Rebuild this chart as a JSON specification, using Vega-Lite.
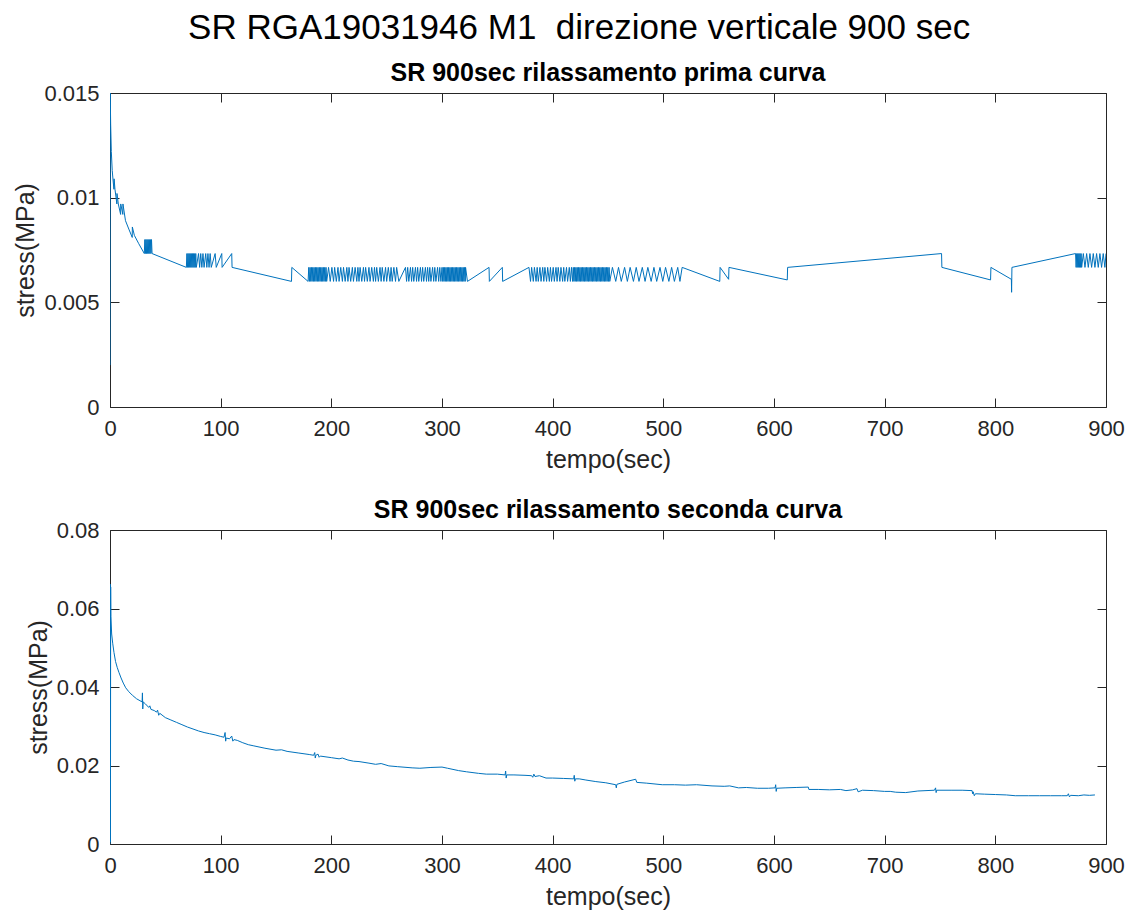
{
"$schema": "https://vega.github.io/schema/vega-lite/v6.json",
"background": "white",
"padding": {"left": 13, "top": 10, "right": 20, "bottom": 5},
"title": {"text": "SR RGA19031946 M1 \u00a0direzione verticale 900 sec", "fontSize": 35, "fontWeight": "normal", "font": "Liberation Sans", "color": "#000000", "anchor": "middle", "offset": 15, "dx": 10},
"datasets": {
"prima": [
{"t":0,"s":0.0020},{"t":0.2,"s":0.0150},{"t":0.6,"s":0.0135},{"t":1.2,"s":0.0122},{"t":2,"s":0.0113},{"t":3,"s":0.0107},{"t":3.6,"s":0.0104},{"t":3.7,"s":0.0109},{"t":4.5,"s":0.0104},{"t":6.2,"s":0.0097},{"t":6.3,"s":0.0102},{"t":7.5,"s":0.0097},{"t":9.6,"s":0.0092},{"t":9.7,"s":0.0097},{"t":11.6,"s":0.0092},{"t":11.7,"s":0.0097},{"t":14,"s":0.0089},{"t":17,"s":0.0085},{"t":20.1,"s":0.0081},{"t":20.2,"s":0.0086},{"t":22,"s":0.0082},{"t":26,"s":0.0078},{"t":31,"s":0.00733},
{"t":31.5,"s":0.008},{"t":32,"s":0.00733},{"t":32.5,"s":0.008},{"t":33,"s":0.00733},{"t":33.5,"s":0.008},{"t":34,"s":0.00733},{"t":34.5,"s":0.008},{"t":35,"s":0.00733},{"t":35.5,"s":0.008},{"t":36,"s":0.00733},{"t":36.5,"s":0.008},{"t":37,"s":0.00733},{"t":37.5,"s":0.008},{"t":38,"s":0.00733},
{"t":69,"s":0.00667},
{"t":69.5,"s":0.00733},{"t":70,"s":0.00667},{"t":70.5,"s":0.00733},{"t":71,"s":0.00667},{"t":71.5,"s":0.00733},{"t":72,"s":0.00667},{"t":72.5,"s":0.00733},{"t":73,"s":0.00667},{"t":73.5,"s":0.00733},{"t":74,"s":0.00667},{"t":74.5,"s":0.00733},{"t":75,"s":0.00667},{"t":75.5,"s":0.00733},{"t":76,"s":0.00667},{"t":76.5,"s":0.00733},{"t":77,"s":0.00667},{"t":77.5,"s":0.00733},{"t":78,"s":0.00667},
{"t":80,"s":0.00733},{"t":81,"s":0.00667},{"t":82,"s":0.00733},{"t":83,"s":0.00667},{"t":84,"s":0.00733},{"t":85,"s":0.00667},{"t":86.5,"s":0.00733},{"t":87.5,"s":0.00667},{"t":88.5,"s":0.00733},{"t":89.5,"s":0.00667},{"t":90.5,"s":0.00733},{"t":91.5,"s":0.00667},{"t":95,"s":0.00733},{"t":96,"s":0.00667},{"t":101,"s":0.00733},{"t":101.3,"s":0.00667},{"t":110,"s":0.00733},{"t":110.3,"s":0.00667},
{"t":164,"s":0.006},{"t":164.3,"s":0.00667},{"t":179,"s":0.006},
{"t":179.6,"s":0.00667},{"t":180.2,"s":0.006},{"t":180.8,"s":0.00667},{"t":181.4,"s":0.006},{"t":182,"s":0.00667},{"t":182.6,"s":0.006},{"t":183.2,"s":0.00667},{"t":183.8,"s":0.006},{"t":184.4,"s":0.00667},{"t":185,"s":0.006},{"t":185.6,"s":0.00667},{"t":186.2,"s":0.006},{"t":186.8,"s":0.00667},{"t":187.4,"s":0.006},{"t":188,"s":0.00667},{"t":188.6,"s":0.006},{"t":189.2,"s":0.00667},{"t":189.8,"s":0.006},{"t":190.4,"s":0.00667},{"t":191,"s":0.006},{"t":191.6,"s":0.00667},{"t":192.2,"s":0.006},{"t":192.8,"s":0.00667},{"t":193.4,"s":0.006},{"t":194,"s":0.00667},{"t":194.6,"s":0.006},{"t":195.2,"s":0.00667},{"t":195.8,"s":0.006},
{"t":197.5,"s":0.00667},{"t":199,"s":0.006},{"t":200.5,"s":0.00667},{"t":202,"s":0.006},{"t":203,"s":0.00667},{"t":204.5,"s":0.006},{"t":206,"s":0.00667},{"t":207,"s":0.006},{"t":208.5,"s":0.00667},{"t":210,"s":0.006},{"t":211,"s":0.00667},{"t":212.5,"s":0.006},{"t":214,"s":0.00667},{"t":215,"s":0.006},{"t":216,"s":0.00667},{"t":217.5,"s":0.006},{"t":219,"s":0.00667},{"t":220,"s":0.006},{"t":221.5,"s":0.00667},{"t":223,"s":0.006},{"t":224,"s":0.00667},{"t":225,"s":0.006},{"t":226,"s":0.00667},{"t":227.5,"s":0.006},{"t":229,"s":0.00667},{"t":230,"s":0.006},{"t":231,"s":0.00667},{"t":232.5,"s":0.006},{"t":234,"s":0.00667},{"t":235,"s":0.006},{"t":236.5,"s":0.00667},{"t":238,"s":0.006},{"t":239,"s":0.00667},{"t":240,"s":0.006},{"t":241,"s":0.00667},{"t":242.5,"s":0.006},{"t":244,"s":0.00667},{"t":245,"s":0.006},{"t":246,"s":0.00667},{"t":247.5,"s":0.006},{"t":249,"s":0.00667},{"t":250,"s":0.006},{"t":251.5,"s":0.00667},{"t":253,"s":0.006},{"t":254,"s":0.00667},{"t":255,"s":0.006},{"t":256.5,"s":0.00667},{"t":258,"s":0.006},{"t":259,"s":0.00667},{"t":261,"s":0.006},{"t":267,"s":0.00667},
{"t":268,"s":0.006},{"t":269,"s":0.00667},{"t":270,"s":0.006},{"t":271.5,"s":0.00667},{"t":272.5,"s":0.006},{"t":273.5,"s":0.00667},{"t":274.5,"s":0.006},{"t":276,"s":0.00667},{"t":277,"s":0.006},{"t":278,"s":0.00667},{"t":279,"s":0.006},{"t":280.5,"s":0.00667},{"t":281.5,"s":0.006},{"t":282.5,"s":0.00667},{"t":283.5,"s":0.006},{"t":285,"s":0.00667},{"t":286,"s":0.006},{"t":287,"s":0.00667},{"t":288,"s":0.006},{"t":289,"s":0.00667},{"t":290,"s":0.006},{"t":291.5,"s":0.00667},{"t":292.5,"s":0.006},{"t":293.5,"s":0.00667},{"t":294.5,"s":0.006},{"t":296,"s":0.00667},{"t":297,"s":0.006},{"t":298,"s":0.00667},{"t":299,"s":0.006},{"t":300,"s":0.00667},
{"t":300.6,"s":0.006},{"t":301.2,"s":0.00667},{"t":301.8,"s":0.006},{"t":302.4,"s":0.00667},{"t":303,"s":0.006},{"t":303.6,"s":0.00667},{"t":304.2,"s":0.006},{"t":304.8,"s":0.00667},{"t":305.4,"s":0.006},{"t":306,"s":0.00667},{"t":306.6,"s":0.006},{"t":307.2,"s":0.00667},{"t":307.8,"s":0.006},{"t":308.4,"s":0.00667},{"t":309,"s":0.006},{"t":309.6,"s":0.00667},{"t":310.2,"s":0.006},{"t":310.8,"s":0.00667},{"t":311.4,"s":0.006},{"t":312,"s":0.00667},{"t":312.6,"s":0.006},{"t":313.2,"s":0.00667},{"t":313.8,"s":0.006},{"t":314.4,"s":0.00667},{"t":315,"s":0.006},{"t":315.6,"s":0.00667},{"t":316.2,"s":0.006},{"t":316.8,"s":0.00667},{"t":317.4,"s":0.006},{"t":318,"s":0.00667},{"t":318.6,"s":0.006},{"t":319.2,"s":0.00667},{"t":319.8,"s":0.006},{"t":320.4,"s":0.00667},{"t":321,"s":0.006},{"t":321.3,"s":0.00667},{"t":323,"s":0.006},
{"t":342.5,"s":0.00667},{"t":342.8,"s":0.006},{"t":354.5,"s":0.00667},{"t":354.8,"s":0.006},{"t":378.6,"s":0.00667},
{"t":380,"s":0.006},{"t":381,"s":0.00667},{"t":382.5,"s":0.006},{"t":383.5,"s":0.00667},{"t":385,"s":0.006},{"t":386,"s":0.00667},{"t":387,"s":0.006},{"t":388.5,"s":0.00667},{"t":389.5,"s":0.006},{"t":391,"s":0.00667},{"t":392,"s":0.006},{"t":393,"s":0.00667},{"t":394.5,"s":0.006},{"t":395.5,"s":0.00667},{"t":397,"s":0.006},{"t":398,"s":0.00667},{"t":399,"s":0.006},{"t":400.5,"s":0.00667},{"t":401.5,"s":0.006},{"t":403,"s":0.00667},{"t":404,"s":0.006},{"t":405,"s":0.00667},{"t":406.5,"s":0.006},{"t":407.5,"s":0.00667},{"t":409,"s":0.006},{"t":410,"s":0.00667},{"t":411,"s":0.006},{"t":412.5,"s":0.00667},{"t":413.5,"s":0.006},{"t":415,"s":0.00667},{"t":416,"s":0.006},{"t":417,"s":0.00667},{"t":418,"s":0.006},
{"t":418.6,"s":0.00667},{"t":419.2,"s":0.006},{"t":419.8,"s":0.00667},{"t":420.4,"s":0.006},{"t":421,"s":0.00667},{"t":421.6,"s":0.006},{"t":422.2,"s":0.00667},{"t":422.8,"s":0.006},{"t":423.4,"s":0.00667},{"t":424,"s":0.006},{"t":424.6,"s":0.00667},{"t":425.2,"s":0.006},{"t":425.8,"s":0.00667},{"t":426.4,"s":0.006},{"t":427,"s":0.00667},{"t":427.6,"s":0.006},{"t":428.2,"s":0.00667},{"t":428.8,"s":0.006},{"t":429.4,"s":0.00667},{"t":430,"s":0.006},{"t":430.6,"s":0.00667},{"t":431.2,"s":0.006},{"t":431.8,"s":0.00667},{"t":432.4,"s":0.006},{"t":433,"s":0.00667},{"t":433.6,"s":0.006},{"t":434.2,"s":0.00667},{"t":434.8,"s":0.006},{"t":435.4,"s":0.00667},{"t":436,"s":0.006},{"t":436.6,"s":0.00667},{"t":437.2,"s":0.006},{"t":437.8,"s":0.00667},{"t":438.4,"s":0.006},{"t":439,"s":0.00667},{"t":439.6,"s":0.006},{"t":440.2,"s":0.00667},{"t":440.8,"s":0.006},{"t":441.4,"s":0.00667},{"t":442,"s":0.006},{"t":442.6,"s":0.00667},{"t":443.2,"s":0.006},{"t":443.8,"s":0.00667},{"t":444.4,"s":0.006},{"t":445,"s":0.00667},{"t":445.6,"s":0.006},{"t":446.2,"s":0.00667},{"t":446.8,"s":0.006},{"t":447.4,"s":0.00667},{"t":448,"s":0.006},{"t":448.6,"s":0.00667},{"t":449.2,"s":0.006},{"t":449.8,"s":0.00667},{"t":450.4,"s":0.006},{"t":451,"s":0.00667},{"t":451.6,"s":0.006},
{"t":454,"s":0.00667},{"t":457,"s":0.006},{"t":459.5,"s":0.00667},{"t":462,"s":0.006},{"t":465,"s":0.00667},{"t":467.5,"s":0.006},{"t":470,"s":0.00667},{"t":473,"s":0.006},{"t":475.5,"s":0.00667},{"t":478,"s":0.006},{"t":481,"s":0.00667},{"t":483.5,"s":0.006},{"t":486,"s":0.00667},{"t":489,"s":0.006},{"t":491.5,"s":0.00667},{"t":494,"s":0.006},{"t":497,"s":0.00667},{"t":499.5,"s":0.006},{"t":502,"s":0.00667},{"t":505,"s":0.006},{"t":507.5,"s":0.00667},{"t":510,"s":0.006},{"t":513,"s":0.00667},{"t":515,"s":0.006},{"t":517,"s":0.00667},
{"t":551,"s":0.006},{"t":551.3,"s":0.00667},{"t":559,"s":0.0061},{"t":559.3,"s":0.00667},{"t":612,"s":0.00607},{"t":612.3,"s":0.00667},{"t":751.4,"s":0.00733},{"t":751.7,"s":0.00667},{"t":795.7,"s":0.00607},{"t":796,"s":0.00667},{"t":814.5,"s":0.0061},{"t":814.7,"s":0.00548},{"t":815,"s":0.00667},{"t":872.5,"s":0.00733},
{"t":873,"s":0.00667},{"t":873.5,"s":0.00733},{"t":874,"s":0.00667},{"t":874.5,"s":0.00733},{"t":875,"s":0.00667},{"t":875.5,"s":0.00733},{"t":876,"s":0.00667},{"t":876.5,"s":0.00733},{"t":877,"s":0.00667},{"t":877.5,"s":0.00733},{"t":878,"s":0.00667},{"t":879.5,"s":0.00733},{"t":881,"s":0.00667},{"t":882.5,"s":0.00733},{"t":884,"s":0.00667},{"t":885.5,"s":0.00733},{"t":887,"s":0.00667},{"t":888.5,"s":0.00733},{"t":890,"s":0.00667},{"t":891.5,"s":0.00733},{"t":893,"s":0.00667},{"t":894.5,"s":0.00733},{"t":896,"s":0.00667},{"t":897.5,"s":0.00733},{"t":899,"s":0.00667},{"t":900,"s":0.00733}
],
"seconda": [
{"t":0,"s":0.0},{"t":0.2,"s":0.0662},{"t":0.4,"s":0.0005},{"t":0.6,"s":0.0655},{"t":0.8,"s":0.058},{"t":1.5,"s":0.0535},{"t":2.5,"s":0.051},{"t":3.6,"s":0.0488},{"t":5,"s":0.0465},{"t":6.5,"s":0.045},{"t":8.1,"s":0.0437},{"t":10,"s":0.0423},{"t":12,"s":0.041},{"t":14.2,"s":0.0398},{"t":17,"s":0.0388},{"t":20.2,"s":0.0379},{"t":24,"s":0.037},{"t":29,"s":0.0362},{"t":29.3,"s":0.0385},{"t":29.6,"s":0.0344},{"t":30,"s":0.0362},{"t":32,"s":0.0357},{"t":35,"s":0.0348},{"t":36,"s":0.0352},{"t":37,"s":0.0343},{"t":40,"s":0.034},{"t":42,"s":0.0336},{"t":43,"s":0.0341},{"t":44,"s":0.0328},{"t":45,"s":0.0333},{"t":50,"s":0.0322},{"t":55,"s":0.0316},{"t":60,"s":0.031},{"t":65,"s":0.0304},{"t":70,"s":0.0298},{"t":75,"s":0.0293},{"t":80,"s":0.0288},{"t":85,"s":0.0284},{"t":90,"s":0.0281},{"t":95,"s":0.0278},{"t":100,"s":0.0274},{"t":103,"s":0.0272},{"t":104,"s":0.0284},{"t":104.5,"s":0.0262},{"t":105,"s":0.027},{"t":108,"s":0.0268},{"t":110,"s":0.0275},{"t":111,"s":0.0262},{"t":112,"s":0.0266},{"t":115,"s":0.0264},{"t":120,"s":0.0258},{"t":125,"s":0.0253},{"t":130,"s":0.025},{"t":140,"s":0.0244},{"t":150,"s":0.0239},{"t":155,"s":0.024},{"t":160,"s":0.0236},{"t":170,"s":0.0232},{"t":180,"s":0.0228},{"t":184,"s":0.0226},{"t":185,"s":0.0233},{"t":185.5,"s":0.0219},{"t":186,"s":0.0226},{"t":188,"s":0.0229},{"t":189,"s":0.0221},{"t":190,"s":0.0224},{"t":200,"s":0.022},{"t":207,"s":0.0217},{"t":210,"s":0.0219},{"t":215,"s":0.0214},{"t":220,"s":0.0211},{"t":225,"s":0.021},{"t":234,"s":0.0206},{"t":240,"s":0.0203},{"t":245,"s":0.0205},{"t":252,"s":0.0199},{"t":260,"s":0.0197},{"t":273,"s":0.0194},{"t":280,"s":0.0193},{"t":290,"s":0.0195},{"t":300,"s":0.0196},{"t":305,"s":0.0193},{"t":315,"s":0.0187},{"t":322,"s":0.0184},{"t":333,"s":0.018},{"t":340,"s":0.0178},{"t":350,"s":0.0178},{"t":357,"s":0.0176},{"t":357.5,"s":0.0186},{"t":358,"s":0.0168},{"t":358.5,"s":0.0176},{"t":365,"s":0.0176},{"t":375,"s":0.0175},{"t":381,"s":0.0174},{"t":382,"s":0.017},{"t":383,"s":0.0178},{"t":384,"s":0.0172},{"t":388,"s":0.0174},{"t":394,"s":0.0168},{"t":400,"s":0.0168},{"t":410,"s":0.0167},{"t":419,"s":0.0166},{"t":419.5,"s":0.0175},{"t":420,"s":0.016},{"t":420.5,"s":0.0166},{"t":424,"s":0.0166},{"t":430,"s":0.0163},{"t":439,"s":0.0159},{"t":448,"s":0.0156},{"t":457,"s":0.0151},{"t":457.5,"s":0.0143},{"t":458,"s":0.0152},{"t":465,"s":0.0158},{"t":475,"s":0.0165},{"t":476,"s":0.0157},{"t":485,"s":0.0155},{"t":499,"s":0.0151},{"t":510,"s":0.0151},{"t":520,"s":0.015},{"t":530,"s":0.0151},{"t":544,"s":0.0148},{"t":555,"s":0.0147},{"t":560,"s":0.0148},{"t":568,"s":0.0143},{"t":575,"s":0.0144},{"t":585,"s":0.0142},{"t":595,"s":0.0142},{"t":601,"s":0.0143},{"t":601.5,"s":0.0151},{"t":602,"s":0.0134},{"t":602.5,"s":0.0142},{"t":610,"s":0.0143},{"t":620,"s":0.0144},{"t":631,"s":0.0145},{"t":631.5,"s":0.0139},{"t":640,"s":0.0139},{"t":650,"s":0.0138},{"t":660,"s":0.0139},{"t":665,"s":0.0136},{"t":671,"s":0.0138},{"t":675,"s":0.0141},{"t":676,"s":0.0133},{"t":680,"s":0.0137},{"t":690,"s":0.0136},{"t":700,"s":0.0134},{"t":705,"s":0.0134},{"t":710,"s":0.0132},{"t":719,"s":0.0131},{"t":730,"s":0.0135},{"t":745,"s":0.0137},{"t":746,"s":0.0143},{"t":746.5,"s":0.0131},{"t":747,"s":0.0137},{"t":760,"s":0.0137},{"t":770,"s":0.0137},{"t":779,"s":0.0136},{"t":779.5,"s":0.0128},{"t":780,"s":0.0133},{"t":781,"s":0.0123},{"t":782,"s":0.0128},{"t":790,"s":0.0127},{"t":800,"s":0.0126},{"t":810,"s":0.0125},{"t":818,"s":0.0123},{"t":830,"s":0.0123},{"t":840,"s":0.0123},{"t":850,"s":0.0123},{"t":860,"s":0.0123},{"t":865,"s":0.0123},{"t":866,"s":0.0128},{"t":867,"s":0.012},{"t":868,"s":0.0124},{"t":875,"s":0.0123},{"t":880,"s":0.0125},{"t":885,"s":0.0124},{"t":890,"s":0.0125}
]
},
"spacing": 24,
"vconcat": [
{
"width": 996, "height": 314,
"title": {"text": "SR 900sec rilassamento prima curva"},
"data": {"name": "prima"},
"resolve": {"axis": {"x": "independent", "y": "independent"}},
"layer": [
{"mark": {"type": "line", "color": "#0072BD", "strokeWidth": 1, "clip": true},
 "encoding": {
 "x": {"field": "t", "type": "quantitative", "scale": {"domain": [0, 900], "nice": false}, "axis": {"title": "tempo(sec)", "values": [0,100,200,300,400,500,600,700,800,900]}},
 "y": {"field": "s", "type": "quantitative", "scale": {"domain": [0, 0.015], "nice": false}, "axis": {"title": "stress(MPa)", "values": [0, 0.005, 0.01, 0.015], "format": ".3~f"}}
 }},
{"mark": {"type": "line", "opacity": 0},
 "encoding": {
 "x": {"field": "t", "type": "quantitative", "axis": {"orient": "top", "labels": false, "title": null, "values": [0,100,200,300,400,500,600,700,800,900]}},
 "y": {"field": "s", "type": "quantitative", "axis": {"orient": "right", "labels": false, "title": null, "values": [0, 0.005, 0.01, 0.015]}}
 }}
]
},
{
"width": 996, "height": 314,
"title": {"text": "SR 900sec rilassamento seconda curva"},
"data": {"name": "seconda"},
"resolve": {"axis": {"x": "independent", "y": "independent"}},
"layer": [
{"mark": {"type": "line", "color": "#0072BD", "strokeWidth": 1, "clip": true},
 "encoding": {
 "x": {"field": "t", "type": "quantitative", "scale": {"domain": [0, 900], "nice": false}, "axis": {"title": "tempo(sec)", "values": [0,100,200,300,400,500,600,700,800,900]}},
 "y": {"field": "s", "type": "quantitative", "scale": {"domain": [0, 0.08], "nice": false}, "axis": {"title": "stress(MPa)", "values": [0, 0.02, 0.04, 0.06, 0.08], "format": ".3~f"}}
 }},
{"mark": {"type": "line", "opacity": 0},
 "encoding": {
 "x": {"field": "t", "type": "quantitative", "axis": {"orient": "top", "labels": false, "title": null, "values": [0,100,200,300,400,500,600,700,800,900]}},
 "y": {"field": "s", "type": "quantitative", "axis": {"orient": "right", "labels": false, "title": null, "values": [0, 0.02, 0.04, 0.06, 0.08]}}
 }}
]
}
],
"config": {
"font": "Liberation Sans",
"view": {"stroke": "#262626", "strokeWidth": 1},
"title": {"fontSize": 25, "fontWeight": "bold", "font": "Liberation Sans", "color": "#000000", "offset": -4, "anchor": "middle"},
"axis": {"domain": false, "grid": false, "tickSize": -9, "tickColor": "#262626", "tickWidth": 1, "labelFontSize": 22, "labelColor": "#262626", "labelFont": "Liberation Sans", "titleFontSize": 25, "titleFontWeight": "normal", "titleColor": "#262626", "titleFont": "Liberation Sans", "labelPadding": 20, "labelFlush": false},
"axisX": {"titlePadding": 8},
"axisY": {"titlePadding": 5}
}
}
